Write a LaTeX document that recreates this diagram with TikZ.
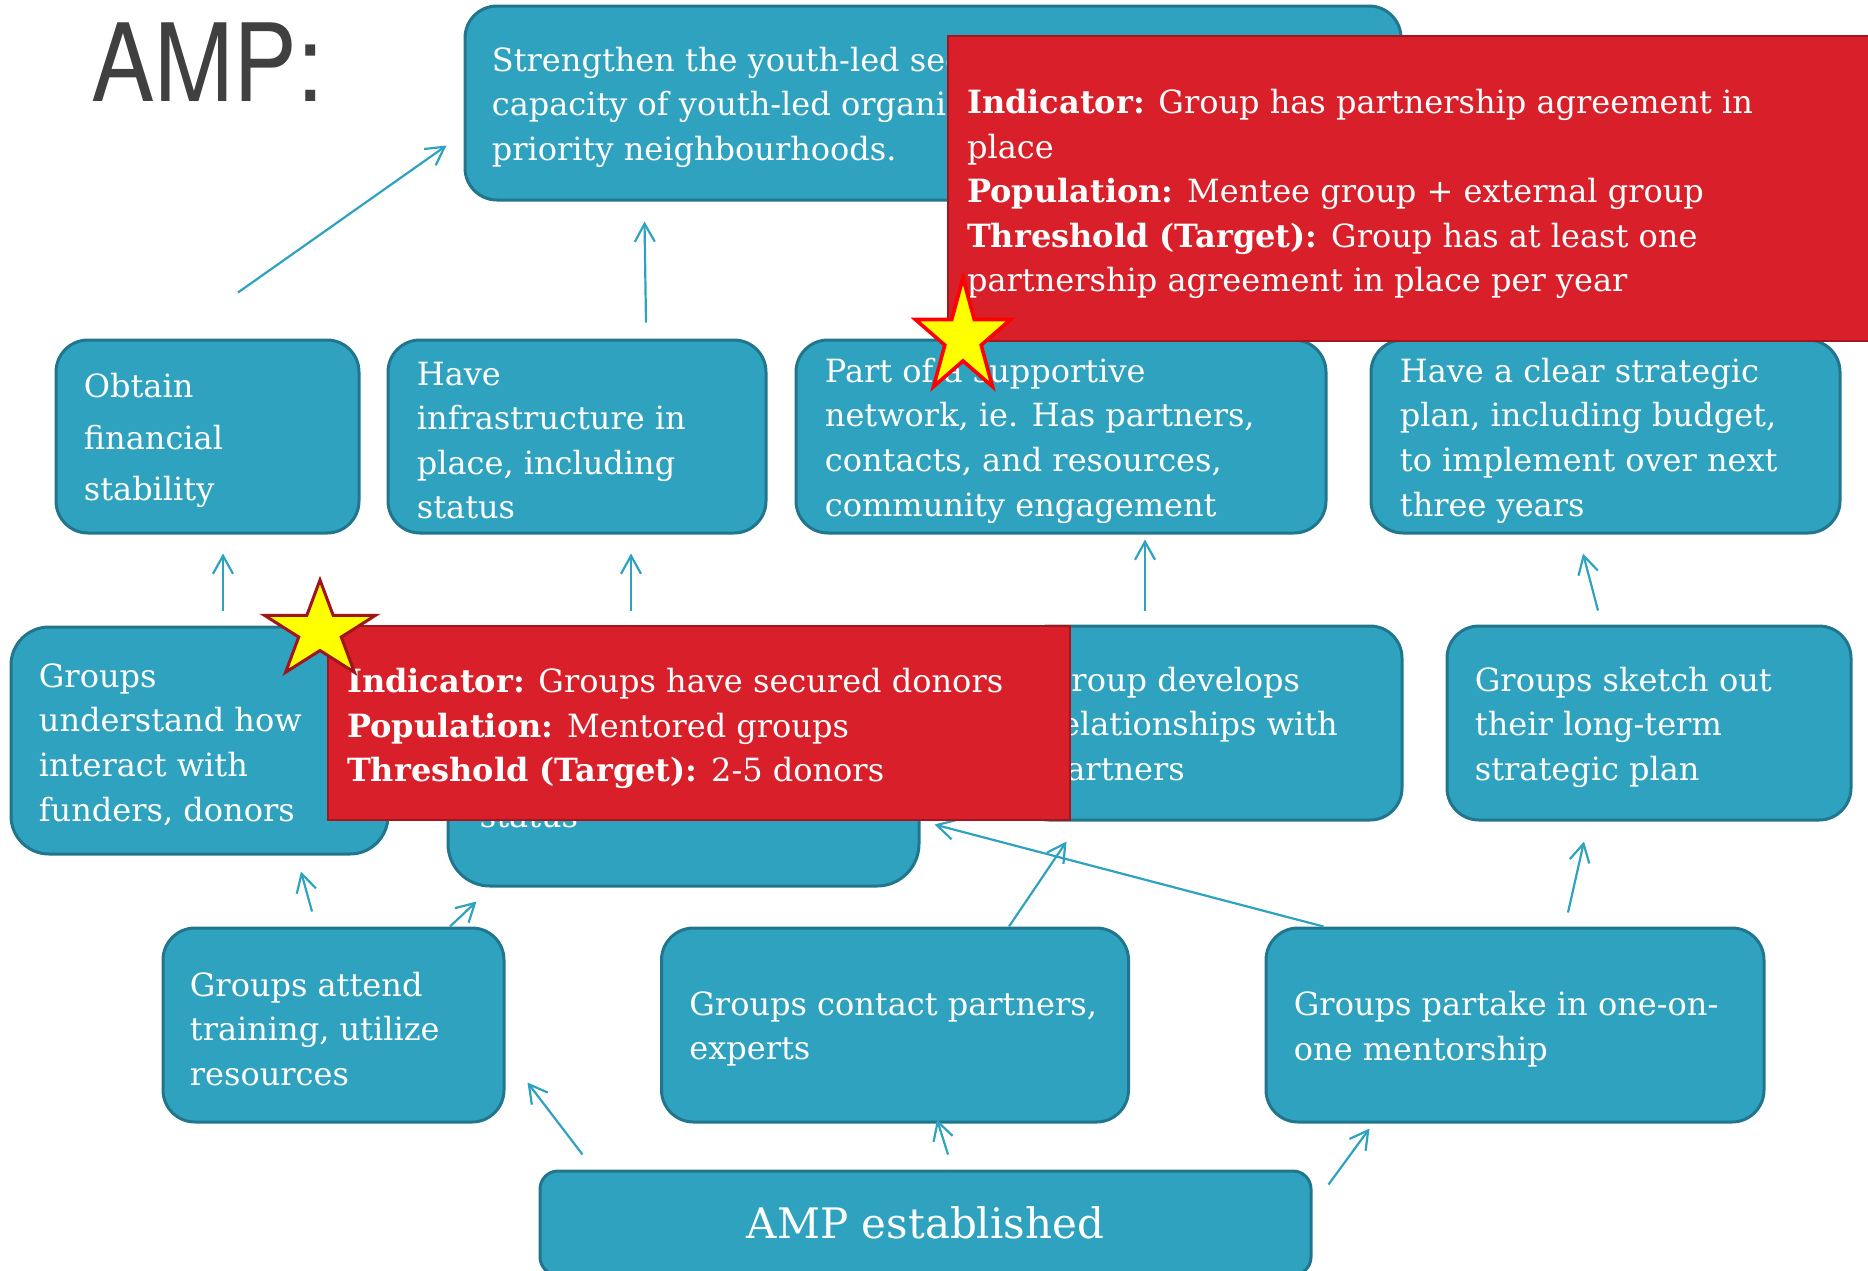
\documentclass[tikz,border=0pt]{standalone}
\usepackage{fontspec}
\setmainfont{DejaVu Serif}
\newfontfamily\titlefont{TeX Gyre Heros}
\usetikzlibrary{arrows.meta,calc,shapes.geometric}
\definecolor{boxfill}{RGB}{46,162,191}
\definecolor{boxline}{RGB}{33,118,142}
\definecolor{notefill}{RGB}{217,31,41}
\definecolor{noteline}{RGB}{163,22,27}
\definecolor{arrowcol}{RGB}{46,162,191}
\definecolor{titlegray}{RGB}{64,64,64}
\definecolor{staryellow}{RGB}{255,255,0}
\definecolor{starred}{RGB}{255,0,0}
\definecolor{stardark}{RGB}{160,20,26}

\begin{document}
\begin{tikzpicture}[x=0.5pt,y=-0.5pt,
  bw/.style={minimum width=#1*0.5pt},
  bh/.style={minimum height=#1*0.5pt},
  box/.style={draw=boxline, fill=boxfill, line width=1.5pt, inner sep=0pt, rounded corners=#1},
  box/.default=16pt,
  note/.style={draw=noteline, fill=notefill, line width=1.3pt, inner sep=0pt},
  txt/.style={text=white, align=left, inner sep=0pt, anchor=west,
    font=\fontsize{16pt}{22.3pt}\selectfont},
  arr/.style={draw=arrowcol, line width=1.1pt, -{Straight Barb[length=9pt,width=10pt]}},
  starbox/.style={star, star points=5, star point ratio=2.618, inner sep=0pt,
    fill=staryellow, line width=1.8pt, transform shape}
]
\clip (0,0) rectangle (1868,1270);

% heading
\node[anchor=base west, inner sep=0pt, text=titlegray,
  font=\titlefont\fontsize{54pt}{60pt}\selectfont, xscale=0.88, transform shape]
  (title) at (91,101) {AMP:};

% outcome boxes
\node[box, bw=936, bh=194] (goal) at (933,103) {};
\node[box, bw=303, bh=193] (obtain) at (207.5,436.5) {};
\node[box, bw=378, bh=193] (infra) at (577,436.5) {};
\node[box, bw=530, bh=193] (network) at (1061,436.5) {};
\node[box, bw=469, bh=193] (strategic) at (1605.5,436.5) {};
\node[box=19pt, bw=377, bh=227] (understand) at (199.5,740.5) {};
\node[box=21pt, bw=471, bh=259] (hidden) at (683.5,756.5) {};
\node[box, bw=385, bh=194] (develops) at (1209.5,723) {};
\node[box, bw=404, bh=194] (sketch) at (1649,723) {};
\node[box, bw=341, bh=194] (attend) at (333.5,1025) {};
\node[box, bw=467, bh=194] (contact) at (895,1025) {};
\node[box, bw=498, bh=194] (partake) at (1515,1025) {};
\node[box=9pt, bw=771, bh=104, text=white, font=\fontsize{21pt}{25pt}\selectfont]
  (amp) at (925.5,1223) {AMP established};

% box texts
\node[txt] (goal-t) at ($(goal.west)+(28,4)$)
  {Strengthen the youth-led sector\\capacity of youth-led organizations\\priority neighbourhoods.};
\node[txt, font=\fontsize{16pt}{25.9pt}\selectfont] (obtain-t) at ($(obtain.west)+(29,4)$)
  {Obtain\\financial\\stability};
\node[txt] (infra-t) at ($(infra.west)+(30,4)$)
  {Have\\infrastructure in\\place, including\\status};
\node[txt] (network-t) at ($(network.west)+(30,4)$)
  {Part of a supportive\\network, ie. Has partners,\\contacts, and resources,\\community engagement};
\node[txt] (strategic-t) at ($(strategic.west)+(30,4)$)
  {Have a clear strategic\\plan, including budget,\\to implement over next\\three years};
\node[txt] (understand-t) at ($(understand.west)+(29,4)$)
  {Groups\\understand how\\interact with\\funders, donors};
\node[txt] (hidden-t) at ($(hidden.west)+(33,4)$)
  {\mbox{}\\\mbox{}\\\mbox{}\\status};
\node[txt] (develops-t) at ($(develops.west)+(30,4)$)
  {Group develops\\relationships with\\partners};
\node[txt] (sketch-t) at ($(sketch.west)+(29,4)$)
  {Groups sketch out\\their long-term\\strategic plan};
\node[txt] (attend-t) at ($(attend.west)+(28,4)$)
  {Groups attend\\training, utilize\\resources};
\node[txt] (contact-t) at ($(contact.west)+(29,4)$)
  {Groups contact partners,\\experts};
\node[txt] (partake-t) at ($(partake.west)+(29,4)$)
  {Groups partake in one-on-\\one mentorship};

% links between outcomes
\draw[arr] ($(obtain.north)+(30.5,-46)$) -- ($(goal.south west)+(-17,-56)$);
\draw[arr] ($(infra.north)+(69,-16)$) -- ($(goal.south west)+(181,20)$);
\draw[arr] ($(understand.north)+(23.5,-15)$) -- ($(obtain.south)+(15.5,19)$);
\draw[arr] ($(hidden.north)+(-52.5,-15)$) -- ($(infra.south)+(54,19)$);
\draw[arr] ($(develops.north)+(-64.5,-14)$) -- ($(network.south)+(84,5)$);
\draw[arr] ($(sketch.north)+(-51,-14)$) -- ($(strategic.south)+(-22.5,19)$);
\draw[arr] ($(attend.north)+(-21.5,-15)$) -- ($(understand.south)+(101.5,16)$);
\draw[arr] ($(attend.north)+(116.5,0)$) -- ($(hidden.south west)+(30,14)$);
\draw[arr] ($(contact.north)+(114,0)$) -- ($(develops.south west)+(51,20)$);
\draw[arr] ($(partake.north west)+(59,0)$) -- ($(hidden.south east)+(14,-63)$);
\draw[arr] ($(partake.north)+(53,-14)$) -- ($(sketch.south)+(-65,20)$);
\draw[arr] ($(amp.north west)+(44,-15)$) -- ($(attend.south east)+(22,-41)$);
\draw[arr] ($(amp.north)+(22.5,-15)$) -- ($(contact.south)+(42,-4)$);
\draw[arr] ($(amp.north east)+(16,15)$) -- ($(partake.south west)+(105,5)$);

% indicator call-outs
\node[note, bw=942, bh=305] (ind1) at (1419,188.5) {};
\node[txt] (ind1-t) at ($(ind1.west)+(20,5.5)$)
  {\textbf{Indicator:} Group has partnership agreement in\\place\\\textbf{Population:} Mentee group + external group\\\textbf{Threshold (Target):} Group has at least one\\partnership agreement in place per year};
\node[note, bw=742, bh=194] (ind2) at (699,723) {};
\node[txt] (ind2-t) at ($(ind2.west)+(20,5.5)$)
  {\textbf{Indicator:} Groups have secured donors\\\textbf{Population:} Mentored groups\\\textbf{Threshold (Target):} 2-5 donors};

% stars
\node[starbox, draw=starred, minimum size=60pt, xscale=0.835] (star1) at (963,338) {};
\node[starbox, draw=stardark, line width=1.5pt, minimum size=51pt, xscale=1.147] (star2) at (320,631) {};
\end{tikzpicture}
\end{document}
